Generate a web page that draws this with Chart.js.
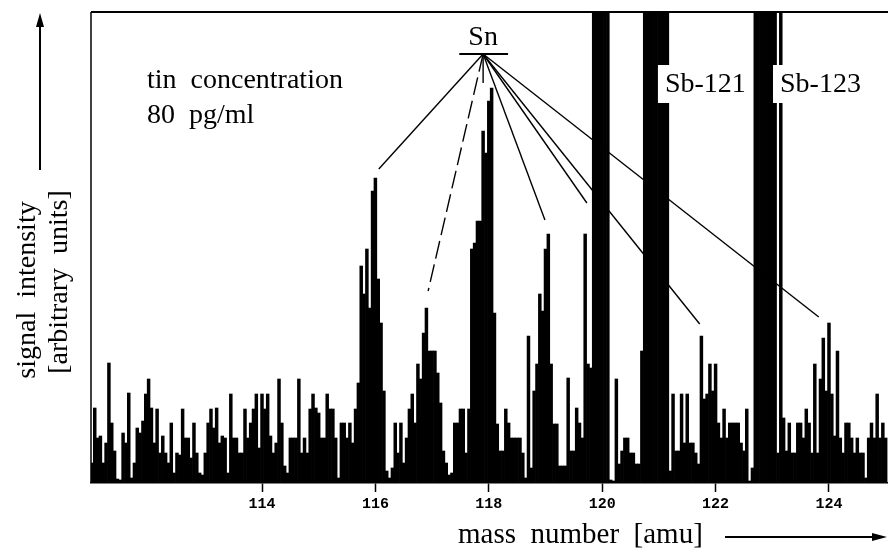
<!DOCTYPE html>
<html>
<head>
<meta charset="utf-8">
<script src="https://cdn.jsdelivr.net/npm/chart.js@4.4.1/dist/chart.umd.min.js"></script>
<style>
  html, body { margin: 0; padding: 0; background: #fff; }
  #wrap { width: 888px; height: 549px; position: relative; }
</style>
</head>
<body>
<div id="wrap"><canvas id="SpectrumChart"></canvas></div>
<script>
// mass channels, 0.05 amu wide, starting at 111.00 amu
const massStart = 111
const massStep = 0.05
const massTicks = [114, 116, 118, 120, 122, 124]

// signal per channel, arbitrary units (471 = top of frame, larger values run off the top)
const signal = [
  20, 75, 45, 47, 20, 40, 120, 60, 32, 4, 3, 50, 40, 90, 5, 20, 55, 50, 62, 89,
  104, 75, 40, 74, 30, 47, 30, 20, 60, 10, 30, 28, 74, 45, 45, 25, 60, 30, 10, 8,
  30, 60, 74, 55, 75, 40, 47, 45, 10, 89, 45, 45, 30, 30, 74, 45, 60, 74, 89, 35,
  89, 74, 89, 47, 30, 40, 104, 60, 17, 10, 45, 45, 45, 104, 30, 45, 30, 74, 89, 75,
  70, 45, 45, 89, 74, 74, 45, 5, 60, 60, 45, 60, 40, 74, 100, 217, 189, 234, 175, 292,
  305, 204, 160, 92, 12, 5, 15, 60, 30, 60, 20, 45, 74, 89, 60, 119, 104, 150, 175, 132,
  132, 132, 110, 80, 32, 20, 8, 10, 60, 60, 74, 74, 30, 74, 234, 240, 262, 262, 352, 330,
  382, 395, 170, 59, 32, 32, 74, 60, 45, 45, 45, 45, 30, 5, 147, 15, 92, 119, 189, 172,
  234, 249, 119, 59, 59, 17, 17, 17, 105, 32, 32, 75, 60, 45, 249, 119, 115, 520, 520, 520,
  520, 520, 520, 3, 2, 104, 19, 32, 45, 45, 30, 30, 19, 19, 132, 520, 520, 520, 520, 520,
  520, 520, 520, 520, 12, 89, 32, 32, 89, 40, 89, 40, 40, 30, 19, 147, 84, 89, 119, 92,
  119, 60, 45, 74, 45, 60, 60, 60, 60, 40, 32, 74, 2, 15, 520, 520, 520, 520, 520, 520,
  520, 520, 30, 520, 65, 32, 60, 30, 30, 60, 60, 45, 74, 60, 30, 119, 30, 104, 145, 92,
  160, 89, 47, 132, 45, 30, 60, 60, 45, 30, 45, 30, 30, 5, 45, 60, 45, 89, 45, 60, 45
]

// Sn isotope pointer lines (hub -> peak)
const snIsotopeMass = [116.06, 116.93, 117.9, 118.99, 119.73, 121.72, 123.82]
const snMarkerLevel = [314, 192, 400, 263, 280, 159, 166]
const snHub = { mass: 117.9, level: 429 }
const snBar = [117.48, 118.34]

// Sb labels
const sbLabels = ['Sb-121', 'Sb-123']
const sbLabelMass = [121.107, 123.136]
const sbLabelLevel = 399

const serif = '"Liberation Serif", "Times New Roman", serif'

const spectrumData = signal.map((v, i) => ({ x: massStart + i * massStep, y: v }))

const annotationPlugin = {
  id: 'annotations',
  afterDatasetsDraw(chart) {
    const { ctx, chartArea } = chart
    const xs = chart.scales.x
    const ys = chart.scales.y
    ctx.save()
    ctx.strokeStyle = '#000'
    ctx.fillStyle = '#000'

    // frame (top and left)
    ctx.lineWidth = 2
    ctx.beginPath()
    ctx.moveTo(chartArea.left, chartArea.top)
    ctx.lineTo(chartArea.right, chartArea.top)
    ctx.stroke()
    ctx.lineWidth = 1.5
    ctx.beginPath()
    ctx.moveTo(chartArea.left, chartArea.top)
    ctx.lineTo(chartArea.left, chartArea.bottom)
    ctx.stroke()

    // Sn pointer lines
    const hx = xs.getPixelForValue(snHub.mass)
    const hy = ys.getPixelForValue(snHub.level)
    ctx.lineWidth = 1.4
    snIsotopeMass.forEach((m, i) => {
      ctx.setLineDash(i === 1 ? [18, 6] : [])
      ctx.beginPath()
      ctx.moveTo(hx, hy)
      ctx.lineTo(xs.getPixelForValue(m), ys.getPixelForValue(snMarkerLevel[i]))
      ctx.stroke()
    })
    ctx.setLineDash([])
    ctx.lineWidth = 2
    ctx.beginPath()
    ctx.moveTo(xs.getPixelForValue(snBar[0]), hy)
    ctx.lineTo(xs.getPixelForValue(snBar[1]), hy)
    ctx.stroke()
    ctx.font = '28px ' + serif
    ctx.textAlign = 'center'
    ctx.textBaseline = 'alphabetic'
    ctx.fillText('Sn', hx, hy - 9)

    // Sb labels on white boxes
    ctx.textAlign = 'left'
    ctx.textBaseline = 'middle'
    const ly = ys.getPixelForValue(sbLabelLevel)
    sbLabels.forEach((t, i) => {
      const lx = xs.getPixelForValue(sbLabelMass[i])
      const w = ctx.measureText(t).width
      ctx.fillStyle = '#fff'
      ctx.fillRect(lx - 7, ly - 19, w + 12, 38)
      ctx.fillStyle = '#000'
      ctx.fillText(t, lx, ly + 1)
    })

    // sample note
    ctx.textBaseline = 'alphabetic'
    ctx.fillText('tin  concentration', 147, 88)
    ctx.fillText('80  pg/ml', 147, 123)

    // y title + arrow
    ctx.save()
    ctx.translate(28, 290)
    ctx.rotate(-Math.PI / 2)
    ctx.textAlign = 'center'
    ctx.textBaseline = 'middle'
    ctx.fillText('signal  intensity', 0, 0)
    ctx.restore()
    ctx.save()
    ctx.translate(60, 282)
    ctx.rotate(-Math.PI / 2)
    ctx.textAlign = 'center'
    ctx.textBaseline = 'middle'
    ctx.fillText('[arbitrary  units]', 0, 0)
    ctx.restore()
    ctx.lineWidth = 2
    ctx.beginPath()
    ctx.moveTo(40, 170)
    ctx.lineTo(40, 24)
    ctx.stroke()
    ctx.beginPath()
    ctx.moveTo(40, 13)
    ctx.lineTo(36, 27)
    ctx.lineTo(44, 27)
    ctx.closePath()
    ctx.fill()

    // x title + arrow
    ctx.font = '29px ' + serif
    ctx.textAlign = 'left'
    ctx.textBaseline = 'middle'
    ctx.fillText('mass  number  [amu]', 458, 535)
    ctx.beginPath()
    ctx.moveTo(725, 537)
    ctx.lineTo(875, 537)
    ctx.stroke()
    ctx.beginPath()
    ctx.moveTo(887, 537)
    ctx.lineTo(872, 533)
    ctx.lineTo(872, 541)
    ctx.closePath()
    ctx.fill()

    ctx.restore()
  }
}

new Chart(document.getElementById('SpectrumChart'), {
  type: 'bar',
  data: {
    datasets: [
      {
        label: 'signal',
        data: spectrumData,
        backgroundColor: '#000',
        borderWidth: 0,
        barPercentage: 1,
        categoryPercentage: 1
      }
    ]
  },
  options: {
    responsive: true,
    maintainAspectRatio: false,
    animation: false,
    layout: { padding: { left: 91, top: 12, right: 0, bottom: 0 } },
    plugins: {
      legend: { display: false },
      tooltip: { enabled: false }
    },
    scales: {
      x: {
        type: 'linear',
        min: 110.984,
        max: 125.041,
        offset: false,
        afterBuildTicks: (scale) => {
          scale.ticks = massTicks.map((v) => ({ value: v }))
        },
        afterFit: (scale) => {
          scale.height = 66
        },
        grid: {
          offset: false,
          drawOnChartArea: false,
          drawTicks: true,
          tickLength: 9,
          tickColor: '#000',
          tickWidth: 1.5
        },
        border: { display: true, color: '#000', width: 1.5 },
        ticks: {
          autoSkip: false,
          maxRotation: 0,
          padding: 3,
          color: '#000',
          font: { family: '"Liberation Mono", monospace', size: 15, weight: 'bold' },
          callback: (v) => String(v)
        }
      },
      y: {
        display: false,
        min: 0,
        max: 471
      }
    }
  },
  plugins: [annotationPlugin]
})
</script>
</body>
</html>
